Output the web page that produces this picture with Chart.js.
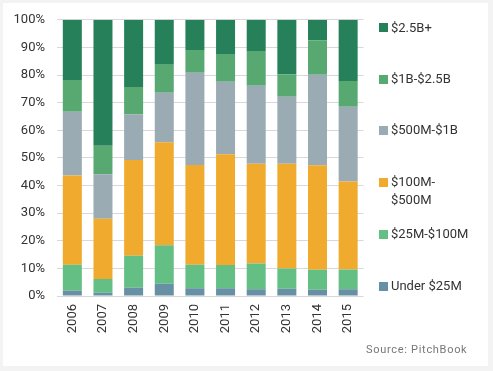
<!DOCTYPE html>
<html>
<head>
<meta charset="utf-8">
<script src="https://cdn.jsdelivr.net/npm/chart.js@4/dist/chart.umd.min.js"></script>
<style>
  html, body { margin:0; padding:0; background:#f3f3f3; }
  #card { position:absolute; left:3px; top:3px; width:485px; height:363px; background:#fff; }
  #wrap { position:absolute; left:0; top:0; width:372px; height:345px; }
  #legend { position:absolute; left:0; top:0; font-family:Roboto, "Liberation Sans", sans-serif; font-size:13px; color:#333; }
  .item { position:absolute; left:379px; white-space:nowrap; line-height:18px; }
  .box { position:absolute; left:0; width:9px; height:9px; }
  .lbl { position:absolute; left:12px; }
  #source { position:absolute; left:366px; top:343px; font-family:Roboto, "Liberation Sans", sans-serif; font-size:11px; letter-spacing:0.7px; color:#777; }
</style>
</head>
<body>
<div id="card"></div>
<div id="wrap"><canvas id="c"></canvas></div>
<div id="legend"></div>
<div id="source">Source: PitchBook</div>
<script>
const categories = ["2006","2007","2008","2009","2010","2011","2012","2013","2014","2015"];
const seriesNames = ["Under $25M","$25M-$100M","$100M-$500M","$500M-$1B","$1B-$2.5B","$2.5B+"];
const under25M   = [2.0, 1.2, 3.0, 4.4, 2.8, 2.8, 2.4, 2.6, 2.3, 2.4];
const m25to100   = [9.3, 5.0, 11.6, 14.0, 8.5, 8.4, 9.4, 7.4, 7.2, 7.2];
const m100to500  = [32.3, 21.8, 34.6, 37.3, 36.1, 40.1, 36.1, 37.9, 37.8, 31.9];
const m500to1B   = [23.1, 16.1, 16.6, 17.9, 33.4, 26.3, 28.2, 24.2, 32.8, 27.0];
const b1to2_5    = [11.5, 10.3, 9.9, 10.1, 8.3, 10.0, 12.6, 8.2, 12.5, 9.3];
const b2_5plus   = [21.8, 45.6, 24.3, 16.3, 10.9, 12.4, 11.3, 19.7, 7.4, 22.2];
const yTicks = [0,10,20,30,40,50,60,70,80,90,100];

const colors = ["#6790a5","#64bf85","#f0aa2e","#9aabb4","#58a872","#26805a"];
const seriesData = [under25M, m25to100, m100to500, m500to1B, b1to2_5, b2_5plus];

const datasets = seriesData.map((d,i)=>({
  label: seriesNames[i],
  data: d,
  backgroundColor: colors[i],
  borderWidth: 0,
  categoryPercentage: 1.0,
  barPercentage: 0.62
}));

new Chart(document.getElementById('c'), {
  type: 'bar',
  data: { labels: categories, datasets },
  options: {
    responsive: true,
    maintainAspectRatio: false,
    animation: false,
    layout: { padding: { top: 18, right: 5, left: 0, bottom: 0 } },
    plugins: { legend: { display:false }, tooltip: { enabled:false } },
    scales: {
      x: {
        stacked: true,
        grid: { display:false, drawTicks:false },
        border: { display:false },
        ticks: { color:'#333', font:{ family:'Roboto, "Liberation Sans", sans-serif', size:13 }, minRotation:90, maxRotation:90, padding:8 },
        afterFit: s => { s.height = 49; }
      },
      y: {
        stacked: true,
        min: 0, max: 100,
        afterBuildTicks: s => { s.ticks = yTicks.map(v=>({value:v})); },
        grid: { color:'#d8d8d8', drawTicks:false, lineWidth:1 },
        border: { display:false },
        ticks: { color:'#333', font:{ family:'Roboto, "Liberation Sans", sans-serif', size:13 }, padding:12, callback: v => v + '%' },
        afterFit: s => { s.width = 57; }
      }
    }
  }
});

// HTML legend built from series names/colors (top to bottom = top of stack first)
const legendTops = [27.5, 79, 130, 182, 234, 286];
const legendOrder = [5,4,3,2,1,0];
const lg = document.getElementById('legend');
legendOrder.forEach((si, k) => {
  const it = document.createElement('div');
  it.className = 'item';
  it.style.top = (legendTops[k] - 9) + 'px';
  const b = document.createElement('div');
  b.className = 'box';
  b.style.background = colors[si];
  b.style.top = '4.5px';
  const t = document.createElement('div');
  t.className = 'lbl';
  const name = seriesNames[si];
  if (name === "$100M-$500M") { t.innerHTML = "$100M-<br>$500M"; } else { t.textContent = name; }
  it.appendChild(b); it.appendChild(t);
  lg.appendChild(it);
});
</script>
</body>
</html>
